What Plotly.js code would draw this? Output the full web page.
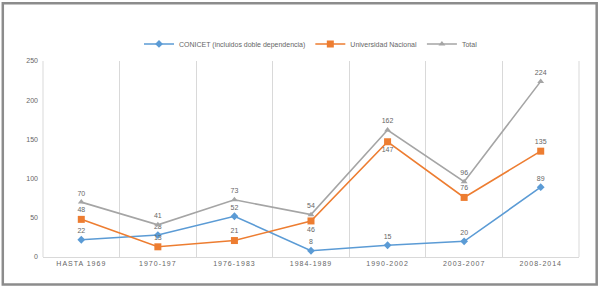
<!DOCTYPE html>
<html>
<head>
<meta charset="utf-8">
<script src="https://cdn.plot.ly/plotly-3.0.1.min.js"></script>
<style>
html,body{margin:0;padding:0;background:#fff;}
#chart{width:604px;height:288px;}
.xtick text{letter-spacing:1px;}
</style>
</head>
<body>
<div id="chart"></div>
<script>
const categories = ["HASTA 1969", "1970-197", "1976-1983", "1984-1989", "1990-2002", "2003-2007", "2008-2014"];
const conicet = [22, 28, 52, 8, 15, 20, 89];
const universidad = [48, 13, 21, 46, 147, 76, 135];
const total = [70, 41, 73, 54, 162, 96, 224];
const conicetPos = ["top center","top center","top center","top center","top center","top center","top center"];
const univPos = ["top center","top center","top center","bottom center","bottom center","top center","top center"];
const totalPos = ["top center","top center","top center","top center","top center","top center","top center"];

const labelFont = {family: "Liberation Sans, Arial, sans-serif", size: 7, color: "#666666"};

const traces = [
  {x: categories, y: conicet, name: "CONICET (incluidos doble dependencia)", type: "scatter", mode: "lines+markers+text",
   line: {color: "#5B9BD5", width: 1.6}, marker: {symbol: "diamond", size: 6, color: "#5B9BD5"},
   text: conicet.map(String), textposition: conicetPos, textfont: labelFont, cliponaxis: false},
  {x: categories, y: universidad, name: "Universidad Nacional", type: "scatter", mode: "lines+markers+text",
   line: {color: "#ED7D31", width: 1.6}, marker: {symbol: "square", size: 7, color: "#ED7D31"},
   text: universidad.map(String), textposition: univPos, textfont: labelFont, cliponaxis: false},
  {x: categories, y: total, name: "Total", type: "scatter", mode: "lines+markers+text",
   line: {color: "#A5A5A5", width: 1.6}, marker: {symbol: "triangle-up", size: 6, color: "#A5A5A5"},
   text: total.map(String), textposition: totalPos, textfont: labelFont, cliponaxis: false}
];

const layout = {
  width: 604, height: 288,
  margin: {l: 43, r: 25, t: 61, b: 31},
  paper_bgcolor: "#fff", plot_bgcolor: "#fff",
  font: {family: "Liberation Sans, Arial, sans-serif", size: 7, color: "#666666"},
  showlegend: true,
  legend: {orientation: "h", x: 0.5, xanchor: "center", y: 1.087, yanchor: "middle",
           font: {size: 7, color: "#666666"}, itemwidth: 30, tracegroupgap: 0},
  xaxis: {type: "category", range: [-0.5, 6.5], autorange: false, tickson: "boundaries", showgrid: true, gridcolor: "#D9D9D9", gridwidth: 1,
          showline: true, linecolor: "#D9D9D9", mirror: false, ticks: "", zeroline: false,
          tickfont: {size: 7, color: "#666666"}, fixedrange: true},
  yaxis: {range: [0, 250], autorange: false, tickvals: [0, 50, 100, 150, 200, 250], showgrid: false, zeroline: false,
          showline: false, ticks: "", tickfont: {size: 7, color: "#666666"}, ticklabelstandoff: 4},
  shapes: [
    {type: "rect", xref: "paper", yref: "paper", x0: -0.075, x1: 1.033, y0: -0.14, y1: 1.295,
     line: {color: "#8C8C8C", width: 2.5}, fillcolor: "rgba(0,0,0,0)"},
    {type: "line", xref: "paper", yref: "paper", x0: 0, x1: 0, y0: 0, y1: 1,
     line: {color: "#D9D9D9", width: 1}},
    {type: "line", xref: "paper", yref: "paper", x0: 1, x1: 1, y0: 0, y1: 1,
     line: {color: "#D9D9D9", width: 1}}
  ]
};

Plotly.newPlot("chart", traces, layout, {staticPlot: true, displayModeBar: false});
</script>
</body>
</html>
